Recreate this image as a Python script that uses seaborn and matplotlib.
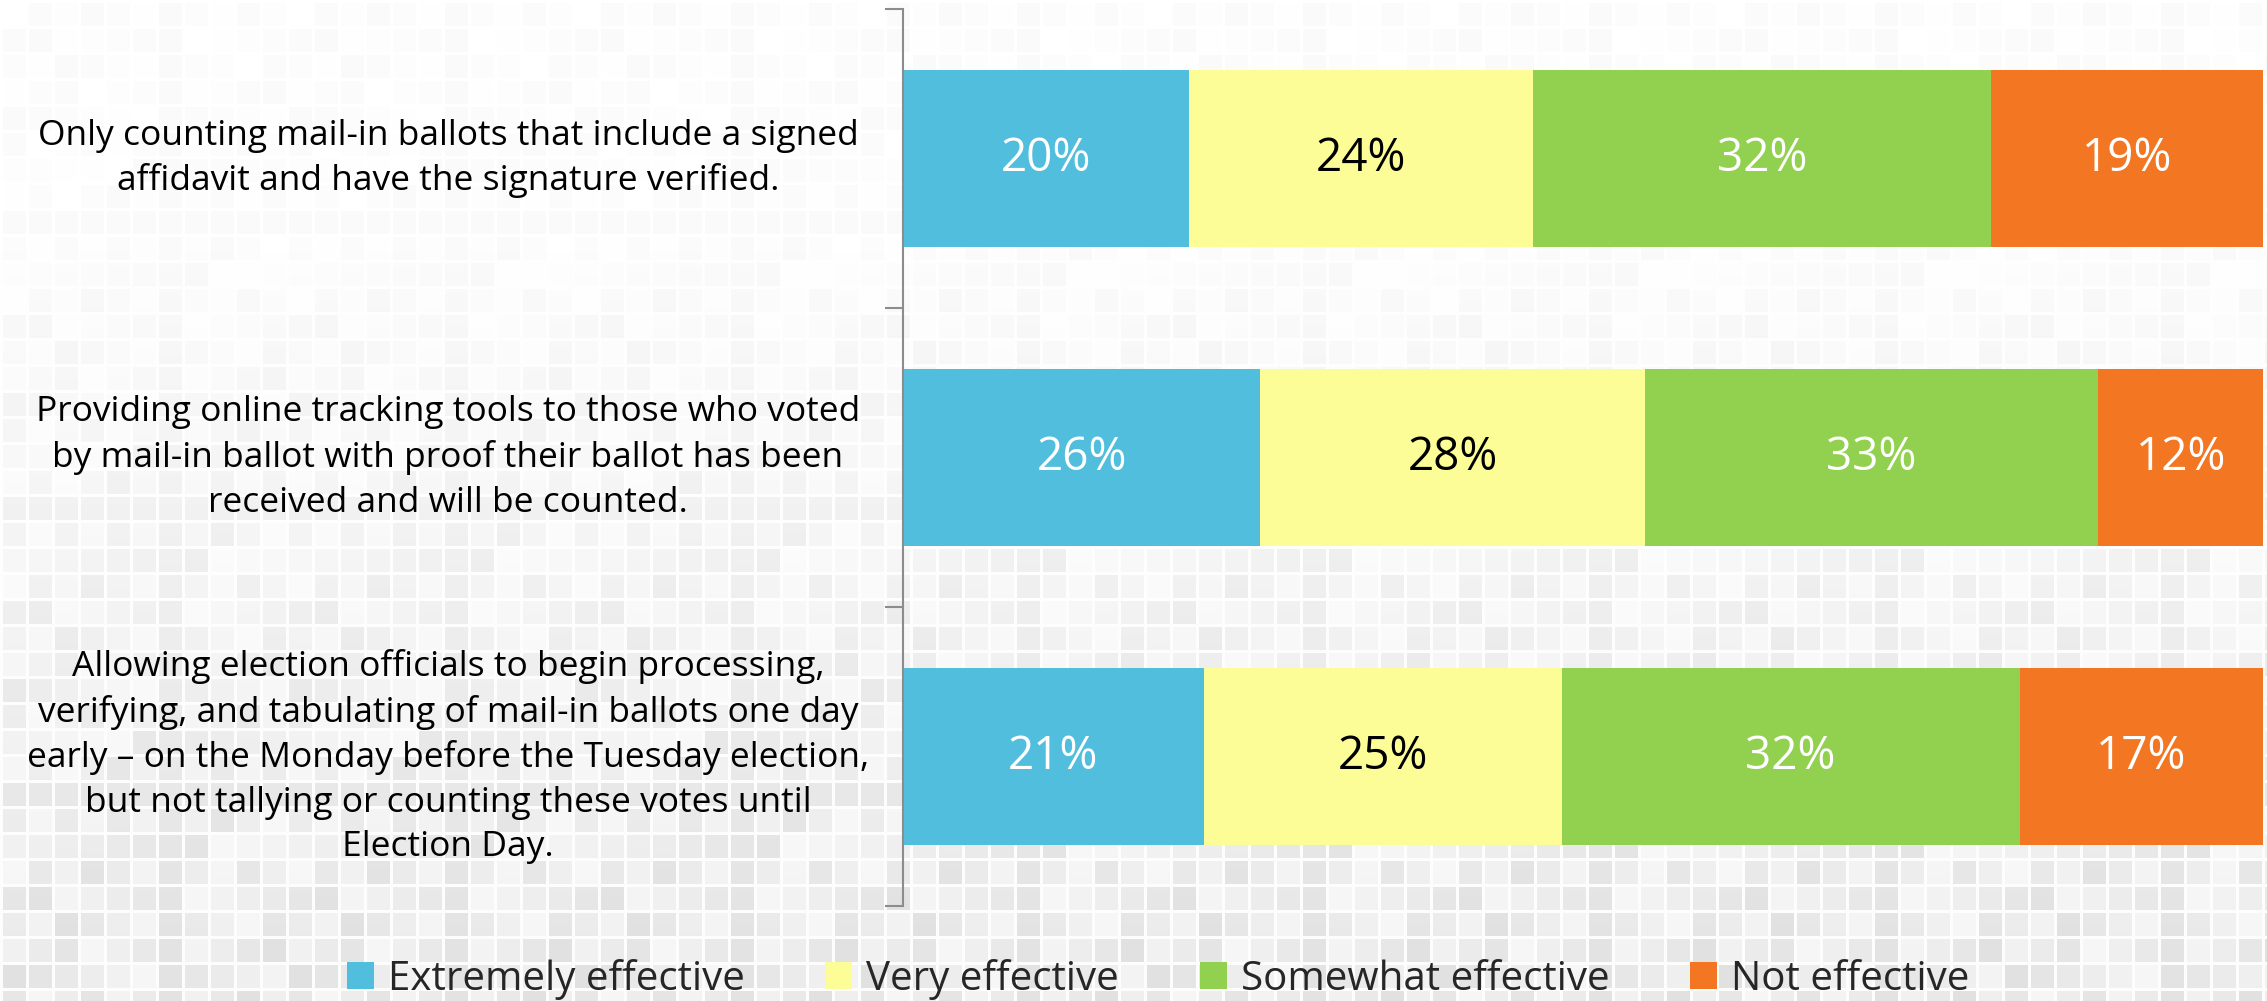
import numpy as np
import matplotlib
matplotlib.use("Agg")
import matplotlib.pyplot as plt
import seaborn as sns
from matplotlib.patches import Patch

# ---------------------------------------------------------------------
# DATA
# ---------------------------------------------------------------------
categories = [
    "Only counting mail-in ballots that include a signed\naffidavit and have the signature verified.",
    "Providing online tracking tools to those who voted\nby mail-in ballot with proof their ballot has been\nreceived and will be counted.",
    "Allowing election officials to begin processing,\nverifying, and tabulating of mail-in ballots one day\nearly \u2013 on the Monday before the Tuesday election,\nbut not tallying or counting these votes until\nElection Day.",
]
series_names = ["Extremely effective", "Very effective", "Somewhat effective", "Not effective"]
extremely = [20, 26, 21]
very = [24, 28, 25]
somewhat = [32, 33, 32]
not_effective = [19, 12, 17]

colors = ["#52BEDD", "#FDFD98", "#92D050", "#F37622"]
label_colors = ["white", "black", "white", "white"]

values = np.array([extremely, very, somewhat, not_effective], dtype=float)
# 100% stacked: each row normalised to its own total
shares = values / values.sum(axis=0) * 100
ends = shares.cumsum(axis=0)

# ---------------------------------------------------------------------
# FIGURE + decorative tiled background
# ---------------------------------------------------------------------
sns.set_theme(style="white")
plt.rcParams["font.family"] = ["Open Sans", "DejaVu Sans"]

W, H = 2267, 1001
fig = plt.figure(figsize=(W / 100, H / 100), dpi=100)

yy, xx = np.mgrid[0:H, 0:W]
step = 26
ix, iy = xx // step, yy // step
gap = (xx % step < 3) | (yy % step < 3)
hashv = ((ix * 73 + iy * 151 + ix * iy * 17) % 11) / 10.0
s = np.clip((yy - 250) / 700, 0, 1)
tile = 255 - hashv * (5 + 16 * s) - 9 * s
bg = np.where(gap, 255 - 2 * s, tile)
bg = np.clip(bg, 0, 255).astype(np.uint8)
bg_ax = fig.add_axes([0, 0, 1, 1], zorder=0)
bg_ax.imshow(np.dstack([bg] * 3), aspect="auto", interpolation="nearest")
bg_ax.axis("off")

ax = fig.add_axes([903 / W, 1 - 906 / H, 1360 / W, 897 / H], zorder=1)
ax.patch.set_alpha(0)

row_keys = ["r0", "r1", "r2"]
# draw longest cumulative bar first so shorter ones sit on top
for k in reversed(range(len(series_names))):
    sns.barplot(x=ends[k], y=row_keys, color=colors[k], saturation=1,
                width=0.59, orient="h", errorbar=None, ax=ax, linewidth=0)

for k in range(len(series_names)):
    for i in range(len(row_keys)):
        ax.text(ends[k][i] - shares[k][i] / 2, i, f"{int(values[k][i])}%",
                ha="center", va="center", fontsize=33, color=label_colors[k])

for i, cat in enumerate(categories):
    ax.text(-0.3346, i, cat, transform=ax.get_yaxis_transform(),
            ha="center", va="center", multialignment="center",
            fontsize=25.5, linespacing=1.4, color="black")

ax.set_xlim(0, 100)
ax.set_ylim(2.5, -0.5)
ax.set_xticks([])
ax.set_yticks([])
ax.set_yticks([-0.5, 0.5, 1.5, 2.5], minor=True)
ax.tick_params(axis="y", which="minor", length=13, width=1.5, color="#8c8c8c", left=True)
ax.set_xlabel("")
ax.set_ylabel("")
for side in ["top", "right", "bottom"]:
    ax.spines[side].set_visible(False)
ax.spines["left"].set_color("#8c8c8c")
ax.spines["left"].set_linewidth(1.5)

handles = [Patch(facecolor=c, edgecolor="none") for c in colors]
fig.legend(handles, series_names, loc="center", bbox_to_anchor=(1158 / W, 1 - 979 / H),
           ncol=4, frameon=False, fontsize=29, handlelength=0.67, handleheight=0.65,
           handletextpad=0.35, columnspacing=2.0)

fig.savefig("out.png", dpi=100)
